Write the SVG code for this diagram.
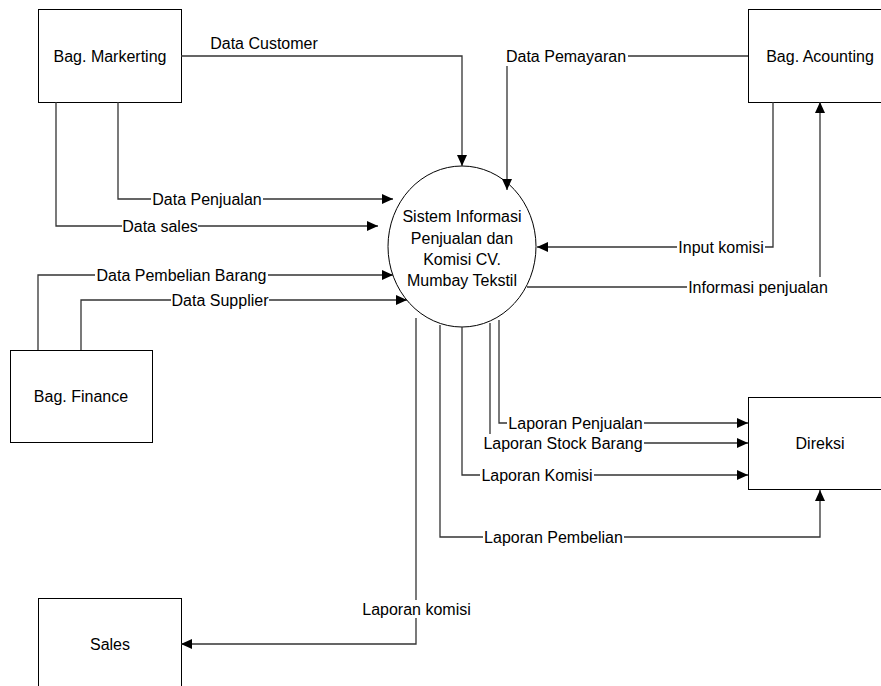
<svg xmlns="http://www.w3.org/2000/svg" width="881" height="686" viewBox="0 0 881 686">
<style>
.box{fill:#fff;stroke:#000;stroke-width:1}
.t{font-family:"Liberation Sans",Arial,sans-serif;font-size:16px;fill:#000;text-anchor:middle}
.c{fill:none;stroke:#333;stroke-width:1.3}
.bg{fill:#fff;stroke:none}
</style>
<defs>
<marker id="arr" markerUnits="userSpaceOnUse" markerWidth="12" markerHeight="12" refX="11" refY="6" orient="auto" viewBox="0 0 12 12">
<path d="M0,1 L11,6 L0,11 z" fill="#000"/>
</marker>
</defs>
<rect width="881" height="686" fill="#fff"/>
<g id="node-marketing">
<rect class="box" x="38.5" y="9.5" width="143" height="93"/>
<text class="t" x="110" y="62">Bag. Markerting</text>
</g>
<g id="node-accounting">
<rect class="box" x="748.5" y="9.5" width="143" height="93"/>
<text class="t" x="820" y="62">Bag. Acounting</text>
</g>
<g id="node-finance">
<rect class="box" x="10.5" y="350.5" width="142" height="92"/>
<text class="t" x="81" y="402">Bag. Finance</text>
</g>
<g id="node-direksi">
<rect class="box" x="748.5" y="397.5" width="143" height="92"/>
<text class="t" x="820" y="449">Direksi</text>
</g>
<g id="node-sales">
<rect class="box" x="38.5" y="598.5" width="143" height="93"/>
<text class="t" x="110" y="650">Sales</text>
</g>
<g id="node-system">
<ellipse cx="462" cy="246.5" rx="74" ry="80.5" fill="#fff" stroke="#000" stroke-width="1"/>
<text class="t" x="462" y="222">Sistem Informasi</text>
<text class="t" x="462" y="244">Penjualan dan</text>
<text class="t" x="462" y="265">Komisi CV.</text>
<text class="t" x="462" y="286">Mumbay Tekstil</text>
</g>
<g id="connectors">
<path class="c" d="M181,56 H462 V166" marker-end="url(#arr)"/>
<path class="c" d="M748,56 H507 V190" marker-end="url(#arr)"/>
<path class="c" d="M118,102 V199 H393" marker-end="url(#arr)"/>
<path class="c" d="M56,102 V226 H378" marker-end="url(#arr)"/>
<path class="c" d="M38,350 V275 H393" marker-end="url(#arr)"/>
<path class="c" d="M81,350 V300 H407" marker-end="url(#arr)"/>
<path class="c" d="M773,102 V247 H537" marker-end="url(#arr)"/>
<path class="c" d="M527,287 H820 V102" marker-end="url(#arr)"/>
<path class="c" d="M499,320 V423 H748" marker-end="url(#arr)"/>
<path class="c" d="M490,323 V443 H748" marker-end="url(#arr)"/>
<path class="c" d="M462,327 V475 H748" marker-end="url(#arr)"/>
<path class="c" d="M440,325 V537 H820 V490" marker-end="url(#arr)"/>
<path class="c" d="M416,318 V644 H181" marker-end="url(#arr)"/>
<g id="labels">
<text class="t" x="264" y="49">Data Customer</text>
<rect class="bg" x="504" y="48" width="124" height="18"/>
<text class="t" x="566" y="62">Data Pemayaran</text>
<rect class="bg" x="151" y="191" width="112" height="17"/>
<text class="t" x="207" y="205">Data Penjualan</text>
<rect class="bg" x="122" y="218" width="76" height="17"/>
<text class="t" x="160" y="232">Data sales</text>
<rect class="bg" x="95" y="267" width="173" height="17"/>
<text class="t" x="181.5" y="281">Data Pembelian Barang</text>
<rect class="bg" x="171" y="292" width="98" height="17"/>
<text class="t" x="220" y="306">Data Supplier</text>
<rect class="bg" x="677" y="239" width="88" height="17"/>
<text class="t" x="721" y="253">Input komisi</text>
<rect class="bg" x="687" y="277" width="142" height="18"/>
<text class="t" x="758" y="293">Informasi penjualan</text>
<rect class="bg" x="507" y="415" width="137" height="17"/>
<text class="t" x="575.5" y="429">Laporan Penjualan</text>
<rect class="bg" x="482" y="434" width="162" height="18"/>
<text class="t" x="563" y="449">Laporan Stock Barang</text>
<rect class="bg" x="480" y="467" width="114" height="17"/>
<text class="t" x="537" y="481">Laporan Komisi</text>
<rect class="bg" x="483" y="529" width="141" height="17"/>
<text class="t" x="553.5" y="543">Laporan Pembelian</text>
<rect class="bg" x="361" y="600" width="111" height="18"/>
<text class="t" x="416.5" y="615">Laporan komisi</text>
</g>
</g>
</svg>
